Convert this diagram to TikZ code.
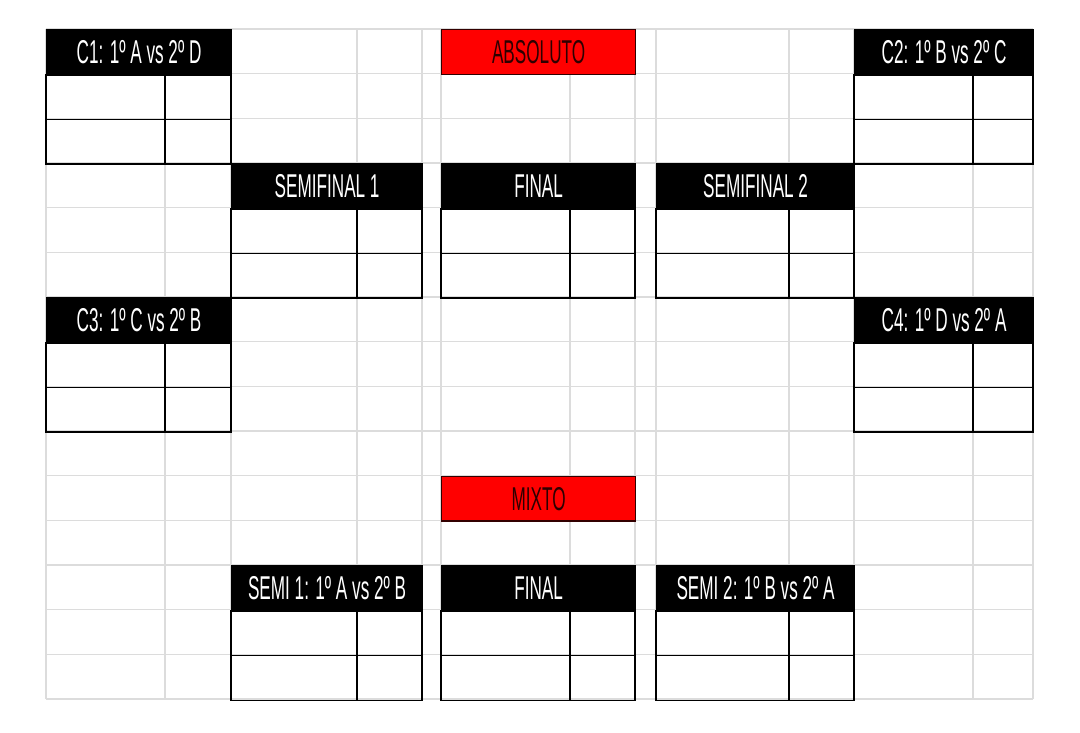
\documentclass[tikz,border=0pt]{standalone}
\usepackage{fontspec}
\setmainfont[FakeStretch=0.52]{Liberation Sans}
\definecolor{gridgray}{RGB}{220,220,220}
\definecolor{redtext}{RGB}{45,0,0}
\definecolor{redborder}{RGB}{50,0,0}
\newcommand\hdrfont{\fontsize{33}{33}\selectfont}
\tikzset{
  gridline/.style={draw=gridgray, line width=1.4pt},
  hdr/.style={draw=black, fill=black, text=white, line width=1.2pt, inner sep=0pt,
              anchor=north west, font=\hdrfont, minimum height=44.67pt},
  redhdr/.style={hdr, fill=red, text=redtext, draw=redborder},
  cell/.style={draw=black, line width=1.5pt},
}
% name, x1, xmid, x2, header row index, title
\newcommand\bracketbox[6]{%
  \pgfmathsetmacro\bw{#4-#2}%
  \node[hdr, minimum width=\bw pt] (#1) at (#2,{29+#5*44.67}) {#6};
  \coordinate (#1m) at (#3,0);
  \draw[cell] (#1.south west) rectangle ++(\bw,89.33);
  \draw[cell] ($(#1.south west)+(0,44.67)$) -- ++(\bw,0);
  \draw[cell] (#1.south west -| #1m) -- ++(0,89.33);
}
\usetikzlibrary{calc}
\begin{document}
\begin{tikzpicture}[x=1pt,y=-1pt]
\fill[white] (0,0) rectangle (1080,732);
\useasboundingbox (0,0) rectangle (1080,732);
% spreadsheet grid
\foreach \x in {46,165,231,357,422,441,570,635,656,789,854,973,1033}
  \draw[gridline] (\x,29) -- (\x,699);
\foreach \k in {0,...,15}
  \draw[gridline] (46,{29+\k*44.67}) -- (1033,{29+\k*44.67});
% ABSOLUTO
\node[redhdr, minimum width=194pt] (absoluto) at (441,29) {ABSOLUTO};
\bracketbox{c1}{46}{165}{231}{0}{C1: 1º A vs 2º D}
\bracketbox{c2}{854}{973}{1033}{0}{C2: 1º B vs 2º C}
\bracketbox{sf1}{231}{357}{422}{3}{SEMIFINAL 1}
\bracketbox{fin}{441}{570}{635}{3}{FINAL}
\bracketbox{sf2}{656}{789}{854}{3}{SEMIFINAL 2}
\bracketbox{c3}{46}{165}{231}{6}{C3: 1º C vs 2º B}
\bracketbox{c4}{854}{973}{1033}{6}{C4: 1º D vs 2º A}
% MIXTO
\node[redhdr, minimum width=194pt] (mixto) at (441,{29+10*44.67}) {MIXTO};
\bracketbox{s1}{231}{357}{422}{12}{SEMI 1: 1º A vs 2º B}
\bracketbox{mfin}{441}{570}{635}{12}{FINAL}
\bracketbox{s2}{656}{789}{854}{12}{SEMI 2: 1º B vs 2º A}
\end{tikzpicture}
\end{document}
